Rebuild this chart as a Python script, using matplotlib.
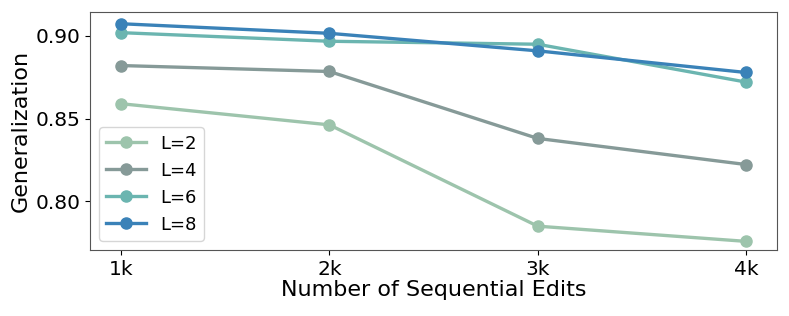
import matplotlib
matplotlib.use('Agg')
import matplotlib.pyplot as plt

# data
edits = [1, 2, 3, 4]
edit_labels = ['1k', '2k', '3k', '4k']
gen_L2 = [0.859, 0.8462, 0.7849, 0.7757]
gen_L4 = [0.8821, 0.8785, 0.8380, 0.8222]
gen_L6 = [0.9020, 0.8968, 0.8950, 0.8721]
gen_L8 = [0.9074, 0.9016, 0.8910, 0.8779]

series = [
    ('L=2', gen_L2, '#9dc4ac'),
    ('L=4', gen_L4, '#869a98'),
    ('L=6', gen_L6, '#6bb5b0'),
    ('L=8', gen_L8, '#3a82b8'),
]

fig = plt.figure(figsize=(7.89, 3.16), dpi=100)
ax = fig.add_axes([0.114, 0.209, 0.871, 0.753])

for name, vals, col in series:
    ax.plot(edits, vals, marker='o', color=col, linewidth=2.4,
            markersize=8, label=name)

ax.set_xticks(edits)
ax.set_xticklabels(edit_labels)
ax.set_yticks([0.80, 0.85, 0.90])
ax.set_ylim(0.7705, 0.9145)
ax.set_xlim(0.85, 4.15)
ax.tick_params(labelsize=14.5)
ax.set_xlabel('Number of Sequential Edits', fontsize=16, labelpad=1)
ax.set_ylabel('Generalization', fontsize=16, labelpad=3)
for sp in ax.spines.values():
    sp.set_color('#555555')

ax.legend(loc='lower left', fontsize=13, handlelength=2.2)

fig.savefig('out.png', dpi=100)
